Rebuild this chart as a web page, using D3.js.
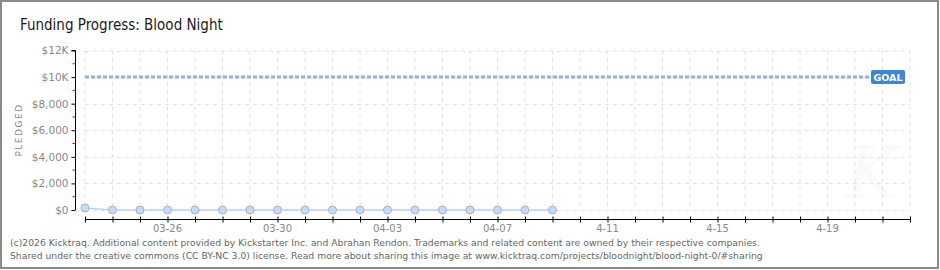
<!DOCTYPE html>
<html><head><meta charset="utf-8">
<script src="https://cdn.jsdelivr.net/npm/d3@7"></script>
<style>
body{margin:0;background:#fff;}
svg{display:block;}
</style></head>
<body>
<svg id="c" width="940" height="270"></svg>
<script>
const title = "Funding Progress: Blood Night";
const startDate = "2026-03-23";
const endDate = "2026-04-22";
const dates = ["2026-03-23","2026-03-24","2026-03-25","2026-03-26","2026-03-27","2026-03-28","2026-03-29","2026-03-30","2026-03-31","2026-04-01","2026-04-02","2026-04-03","2026-04-04","2026-04-05","2026-04-06","2026-04-07","2026-04-08","2026-04-09"];
const pledged = [150,0,0,0,0,0,0,0,0,0,0,0,0,0,0,0,0,0];
const goal = 10000;
const yTicks = [0,2000,4000,6000,8000,10000,12000];
const yTickLabels = ["$0","$2,000","$4,000","$6,000","$8,000","$10K","$12K"];
const yMinorTicks = [1000,3000,5000,7000,9000,11000];
const xLabelDates = ["2026-03-26","2026-03-30","2026-04-03","2026-04-07","2026-04-11","2026-04-15","2026-04-19"];
const xLabels = ["03-26","03-30","04-03","04-07","4-11","4-15","4-19"];
const footer1 = "(c)2026 Kicktraq. Additional content provided by Kickstarter Inc. and Abrahan Rendon. Trademarks and related content are owned by their respective companies.";
const footer2 = "Shared under the creative commons (CC BY-NC 3.0) license. Read more about sharing this image at www.kicktraq.com/projects/bloodnight/blood-night-0/#sharing";

const parse = d3.utcParse("%Y-%m-%d");
const svg = d3.select("#c");
const font = "'DejaVu Sans', Verdana, sans-serif";

svg.append("rect").attr("x",1).attr("y",1).attr("width",937).attr("height",267)
  .attr("fill","#fff").attr("stroke","#8a8a8a").attr("stroke-width",2);

svg.append("text").attr("x",20).attr("y",30).text(title)
  .attr("font-family","'DejaVu Sans Condensed', 'DejaVu Sans', sans-serif").attr("font-size",15).attr("fill","#1a1a1a");

const x = d3.scaleUtc().domain([parse(startDate), parse(endDate)]).range([85,910]);
const y = d3.scaleLinear().domain([0,12000]).range([210,50.5]);

// watermark
svg.append("text").attr("x",872).attr("y",198).attr("text-anchor","middle")
  .attr("font-family","'DejaVu Serif', serif").attr("font-style","italic").attr("font-size",72)
  .attr("fill","#fafafa").text("K");

const allDays = d3.utcDay.range(parse(startDate), d3.utcDay.offset(parse(endDate),1));

// grid
const g = svg.append("g");
g.selectAll("line.v").data(allDays).join("line")
  .attr("x1",d=>x(d)).attr("x2",d=>x(d)).attr("y1",y(12000)).attr("y2",y(0))
  .attr("stroke","#e2e2e2").attr("stroke-dasharray","4,4");
g.selectAll("line.h").data(yTicks).join("line")
  .attr("x1",x(parse(startDate))).attr("x2",x(parse(endDate))).attr("y1",d=>Math.round(y(d))+0.5).attr("y2",d=>Math.round(y(d))+0.5)
  .attr("stroke","#e2e2e2").attr("stroke-dasharray","4,4");

// y axis
const yAxis = d3.axisLeft(y).tickValues(yTicks).tickSize(4).tickFormat((d,i)=>yTickLabels[i]);
const ya = svg.append("g").attr("transform","translate(75.5,0)").call(yAxis);
ya.select(".domain").attr("stroke","#000").attr("d",`M-4,${y(12000)}H0V${y(0)}`);
ya.selectAll(".tick line").attr("stroke","#000");
ya.selectAll(".tick text").attr("x",-7).attr("fill","#888").attr("font-family",font).attr("font-size",10.5);
ya.selectAll(".minor").data(yMinorTicks).join("line").attr("class","minor")
  .attr("x1",-3).attr("x2",0).attr("y1",d=>y(d)).attr("y2",d=>y(d)).attr("stroke","#e00");

svg.append("text").attr("transform","translate(22,130) rotate(-90)").attr("text-anchor","middle")
  .attr("font-family",font).attr("font-size",9).attr("letter-spacing",1.5).attr("fill","#888").text("PLEDGED");

// x axis
const xa = svg.append("g").attr("transform","translate(0,219.5)")
  .call(d3.axisBottom(x).tickValues(allDays).tickSize(3).tickFormat(""));
xa.select(".domain").attr("stroke","#000").attr("d",`M${x(parse(startDate))},0H${x(parse(endDate))}`);
xa.selectAll(".tick line").attr("stroke","#000").attr("y1",-3).attr("y2",3);
svg.append("g").selectAll("text").data(xLabelDates).join("text")
  .attr("x",d=>x(parse(d))).attr("y",232).attr("text-anchor","middle")
  .attr("font-family",font).attr("font-size",10).attr("fill","#888").text((d,i)=>xLabels[i]);

// goal line
svg.append("line").attr("x1",x(parse(startDate))).attr("x2",x(parse(endDate))-4)
  .attr("y1",y(goal)).attr("y2",y(goal)).attr("stroke","#8fb2de").attr("stroke-width",3).attr("stroke-dasharray","4,2");
const gx = x(parse(endDate)) - 39;
svg.append("rect").attr("x",gx).attr("y",y(goal)-7).attr("width",34).attr("height",14).attr("rx",2)
  .attr("fill","#3d86d6");
svg.append("text").attr("x",gx+17).attr("y",y(goal)+4).attr("text-anchor","middle")
  .attr("font-family",font).attr("font-size",9.5).attr("font-weight","bold").attr("fill","#fff").text("GOAL");

// data
const pts = dates.map((d,i)=>({d:parse(d), v:pledged[i]}));
svg.append("path").datum(pts)
  .attr("d", d3.line().x(p=>x(p.d)).y(p=>y(p.v)))
  .attr("fill","none").attr("stroke","#b9d5f3").attr("stroke-width",1.5);
svg.append("g").selectAll("circle").data(pts).join("circle")
  .attr("cx",p=>x(p.d)).attr("cy",p=>y(p.v)).attr("r",4)
  .attr("fill","#c4dcf6").attr("stroke","#9bb5d6").attr("stroke-width",1);

// footer
svg.append("text").attr("x",10).attr("y",246).attr("font-family","Verdana, 'DejaVu Sans', sans-serif")
  .attr("font-size",9.25).attr("fill","#666").text(footer1);
svg.append("text").attr("x",10).attr("y",258.5).attr("font-family","Verdana, 'DejaVu Sans', sans-serif")
  .attr("font-size",9.25).attr("fill","#666").text(footer2);
</script>
</body></html>
